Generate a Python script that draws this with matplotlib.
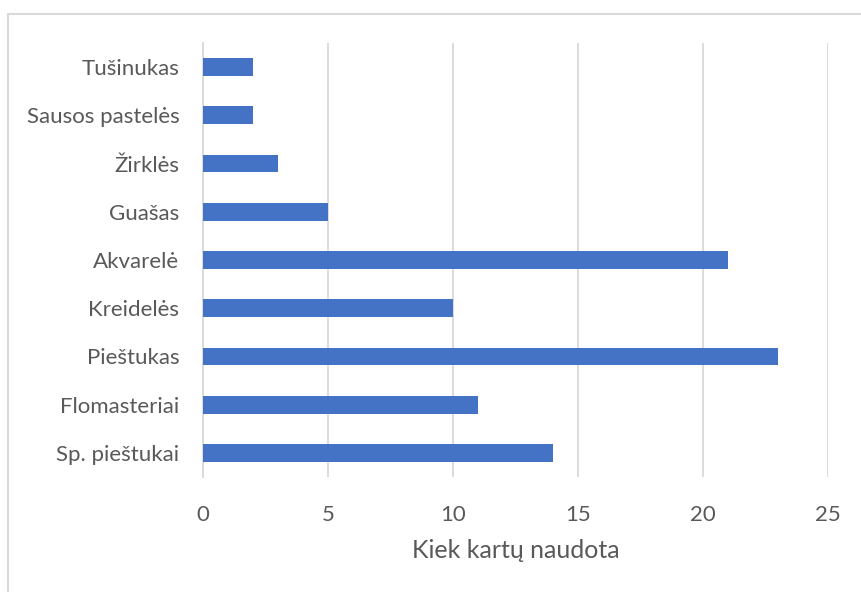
import matplotlib.pyplot as plt
from matplotlib.patches import Rectangle

# data (bottom to top)
categories = ['Sp. pieštukai', 'Flomasteriai', 'Pieštukas', 'Kreidelės', 'Akvarelė',
              'Guašas', 'Žirklės', 'Sausos pastelės', 'Tušinukas']
counts = [14, 11, 23, 10, 21, 5, 3, 2, 2]
xticks = [0, 5, 10, 15, 20, 25]

plt.rcParams['font.family'] = ['Lato', 'DejaVu Sans']
text_color = '#595959'
grid_color = '#d9d9d9'

fig = plt.figure(figsize=(8.61, 5.92), dpi=100)
ax = fig.add_axes([203 / 861, 1 - 477 / 592, (828 - 203) / 861, (477 - 43) / 592])

ax.barh(range(len(categories)), counts, height=0.37, color='#4472C4', zorder=3)

ax.set_xlim(0, 25)
ax.set_ylim(-0.5, len(categories) - 0.5)
ax.set_xticks(xticks)
ax.set_yticks(range(len(categories)))
ax.set_yticklabels(categories)

ax.grid(axis='x', color=grid_color, linewidth=1.3, zorder=0)
for side in ['top', 'right', 'bottom']:
    ax.spines[side].set_visible(False)
ax.spines['left'].set_color(grid_color)
ax.spines['left'].set_linewidth(1.3)
ax.tick_params(axis='both', length=0, colors=text_color, labelsize=16)
ax.tick_params(axis='x', pad=20)
ax.tick_params(axis='y', pad=17)

ax.set_xlabel('Kiek kartų naudota', fontsize=18, color=text_color, labelpad=10)

# chart area border
fig.patches.append(Rectangle((7.5 / 861, -0.1), 1.0, 1 - 13.5 / 592 + 0.1,
                             transform=fig.transFigure, fill=False,
                             edgecolor=grid_color, linewidth=1.5))

fig.savefig('out.png', dpi=100)
